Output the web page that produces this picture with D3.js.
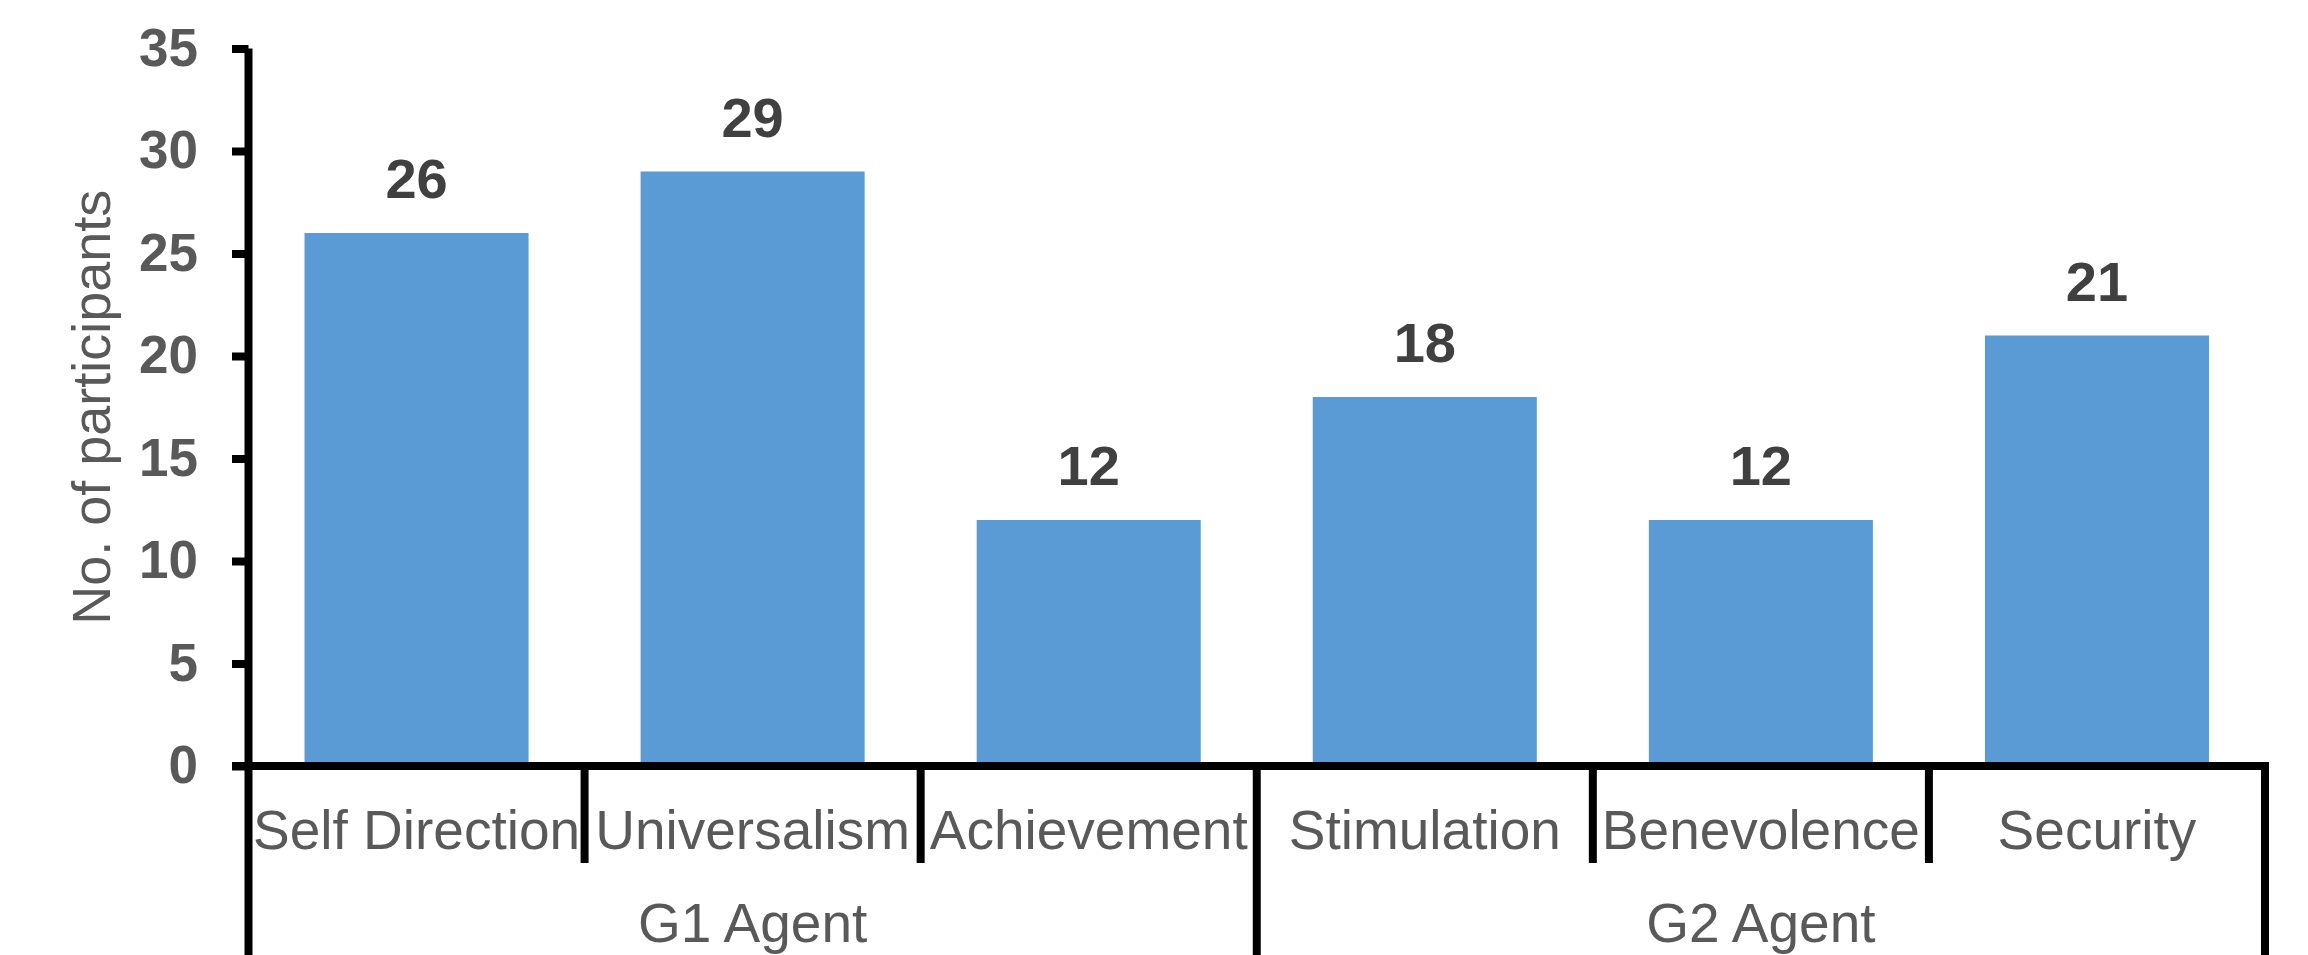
<!DOCTYPE html>
<html>
<head>
<meta charset="utf-8">
<script src="https://cdn.jsdelivr.net/npm/d3@7"></script>
<style>
  html, body { margin: 0; padding: 0; background: #ffffff; }
  svg { display: block; font-family: "Liberation Sans", Arial, Helvetica, sans-serif; }
</style>
</head>
<body>
<svg id="chart" width="2308" height="955"></svg>
<script>
// Participants per value type, grouped by agent
const categories = ["Self Direction", "Universalism", "Achievement", "Stimulation", "Benevolence", "Security"];
const values = [26, 29, 12, 18, 12, 21];
const groups = ["G1 Agent", "G2 Agent"];
const groupSizes = [3, 3];
const yTicks = [0, 5, 10, 15, 20, 25, 30, 35];
const yTitle = "No. of participants";

const W = 2308, H = 955;
const plotLeft = 248.5, plotRight = 2265, plotTop = 48.5, plotBase = 766;
const axisW = 8;
const barColor = "#5B9BD5";
const textGray = "#595959";
const valueGray = "#404040";

const svg = d3.select("#chart");

const x = d3.scaleBand()
  .domain(categories)
  .range([plotLeft, plotRight])
  .paddingInner(1 / 3)
  .paddingOuter(1 / 6);

const y = d3.scaleLinear().domain([0, 35]).range([plotBase, plotTop]);

// bars
svg.append("g").selectAll("rect")
  .data(categories)
  .join("rect")
  .attr("x", d => x(d))
  .attr("width", x.bandwidth())
  .attr("y", (d, i) => y(values[i]))
  .attr("height", (d, i) => y(0) - y(values[i]))
  .attr("fill", barColor);

// value labels
svg.append("g").selectAll("text")
  .data(categories)
  .join("text")
  .attr("x", d => x(d) + x.bandwidth() / 2)
  .attr("y", (d, i) => y(values[i]) - 35)
  .attr("text-anchor", "middle")
  .attr("font-size", 56)
  .attr("font-weight", "bold")
  .attr("fill", valueGray)
  .text((d, i) => values[i]);

// y axis
const yAxis = d3.axisLeft(y)
  .tickValues(yTicks)
  .tickSize(16.5)
  .tickSizeOuter(0)
  .tickPadding(34);

const gy = svg.append("g")
  .attr("transform", `translate(${plotLeft},0)`)
  .call(yAxis);
gy.select(".domain").remove();
gy.selectAll(".tick line")
  .attr("stroke", "#000")
  .attr("stroke-width", axisW);
gy.selectAll(".tick text")
  .attr("font-size", 53)
  .attr("font-weight", "bold")
  .attr("fill", textGray)
  .attr("font-family", "'Liberation Sans', Arial, sans-serif");

// y axis line continues down as the outer bracket of the category table
svg.append("line")
  .attr("x1", plotLeft).attr("x2", plotLeft)
  .attr("y1", plotTop).attr("y2", H + 10)
  .attr("stroke", "#000").attr("stroke-width", axisW);

// x axis baseline
svg.append("line")
  .attr("x1", plotLeft - 16.5).attr("x2", plotRight + axisW / 2)
  .attr("y1", y(0)).attr("y2", y(0))
  .attr("stroke", "#000").attr("stroke-width", axisW);

// category boundaries: short dividers inside a group, full-height ones between groups
const step = x.step();
const groupEnds = [];
groupSizes.reduce((acc, n) => { groupEnds.push(acc + n); return acc + n; }, 0);
const boundaries = d3.range(1, categories.length + 1).map(k => ({
  x: plotLeft + k * step,
  full: groupEnds.includes(k)
}));

svg.append("g").selectAll("line")
  .data(boundaries)
  .join("line")
  .attr("x1", d => d.x).attr("x2", d => d.x)
  .attr("y1", y(0))
  .attr("y2", d => d.full ? H + 10 : 863)
  .attr("stroke", "#000")
  .attr("stroke-width", axisW);

// category labels
svg.append("g").selectAll("text")
  .data(categories)
  .join("text")
  .attr("x", d => x(d) + x.bandwidth() / 2)
  .attr("y", 849)
  .attr("text-anchor", "middle")
  .attr("font-size", 55)
  .attr("fill", textGray)
  .text(d => d);

// group labels
let start = 0;
const groupCenters = groupSizes.map(n => {
  const c = plotLeft + (start + n / 2) * step;
  start += n;
  return c;
});
svg.append("g").selectAll("text")
  .data(groups)
  .join("text")
  .attr("x", (d, i) => groupCenters[i])
  .attr("y", 942)
  .attr("text-anchor", "middle")
  .attr("font-size", 55)
  .attr("fill", textGray)
  .text(d => d);

// y axis title
svg.append("text")
  .attr("transform", `translate(110,${(plotTop + plotBase) / 2}) rotate(-90)`)
  .attr("text-anchor", "middle")
  .attr("font-size", 54)
  .attr("fill", textGray)
  .text(yTitle);
</script>
</body>
</html>
